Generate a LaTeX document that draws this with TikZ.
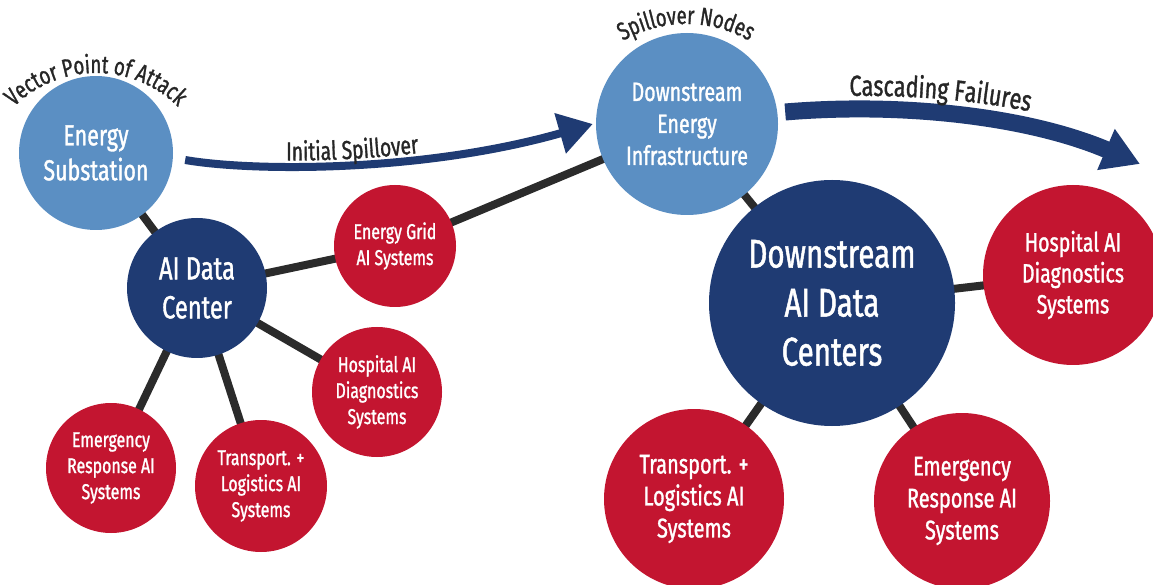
\documentclass[tikz,border=0pt]{standalone}
\usepackage{fontspec}
\setmainfont{Fira Sans}[FakeStretch=0.74,FakeBold=1.2]
\usetikzlibrary{arrows.meta,decorations.text,backgrounds,calc}
\definecolor{lblue}{HTML}{5B8FC3}
\definecolor{navy}{HTML}{1F3B73}
\definecolor{cred}{HTML}{C31530}
\definecolor{conncol}{HTML}{2B2B2B}
\definecolor{txt}{HTML}{262626}
\begin{document}
\begin{tikzpicture}[x=1pt,y=1pt,
  bubble/.style={circle,inner sep=0pt,text=white,align=center},
  lbub/.style={bubble,fill=lblue},
  nbub/.style={bubble,fill=navy},
  rbub/.style={bubble,fill=cred},
  linkline/.style={draw=conncol,line width=8pt},
  bigarrow/.style={draw=navy,line cap=butt}
]
\useasboundingbox (0,0) rectangle (1153,584);
\clip (0,0) rectangle (1153,584);

% nodes
\node[lbub,minimum size=154pt,font=\fontsize{29}{35}\selectfont] (sub) at (96,431) {Energy\\Substation};
\node[nbub,minimum size=140pt,font=\fontsize{32}{39}\selectfont] (aidc) at (197,296) {AI Data\\Center};
\node[rbub,minimum size=122pt,font=\fontsize{21.5}{26}\selectfont] (grid) at (395,338) {Energy Grid\\AI Systems};
\node[rbub,minimum size=130pt,font=\fontsize{21.5}{26}\selectfont] (hosp1) at (377,192) {Hospital AI\\Diagnostics\\Systems};
\node[rbub,minimum size=130pt,font=\fontsize{21.5}{26}\selectfont] (emer1) at (111,116) {Emergency\\Response AI\\Systems};
\node[rbub,minimum size=132pt,font=\fontsize{21.5}{26}\selectfont] (trans1) at (261,98) {Transport. +\\Logistics AI\\Systems};
\node[lbub,minimum size=182pt,font=\fontsize{26.5}{32}\selectfont] (dse) at (687,460) {Downstream\\Energy\\Infrastructure};
\node[nbub,minimum size=246pt,font=\fontsize{40}{49}\selectfont] (dsai) at (832,281) {Downstream\\AI Data\\Centers};
\node[rbub,minimum size=180pt,font=\fontsize{26.5}{31}\selectfont] (hosp2) at (1073,309) {Hospital AI\\Diagnostics\\Systems};
\node[rbub,minimum size=180pt,font=\fontsize{27}{32}\selectfont] (trans2) at (694,85) {Transport. +\\Logistics AI\\Systems};
\node[rbub,minimum size=176pt,font=\fontsize{27}{32}\selectfont] (emer2) at (962,83) {Emergency\\Response AI\\Systems};

% connectors behind
\begin{pgfonlayer}{background}
\draw[linkline] (sub.center) -- (aidc.center);
\draw[linkline] (aidc.center) -- (grid.center);
\draw[linkline] (grid.center) -- (dse.center);
\draw[linkline] (aidc.center) -- (hosp1.center);
\draw[linkline] (aidc.center) -- (emer1.center);
\draw[linkline] (aidc.center) -- (trans1.center);
\draw[linkline] (dse.center) -- (dsai.center);
\draw[linkline] (dsai.center) -- (hosp2.center);
\draw[linkline] (dsai.center) -- (trans2.center);
\draw[linkline] (dsai.center) -- (emer2.center);
\end{pgfonlayer}

% arrows
\coordinate (isA) at ($(sub.east)+(12,-7)$);
\coordinate (isB) at ($(dse.west)+(-3,0)$);
\draw[bigarrow,line width=8pt,-{Triangle[length=34pt,width=40pt]}]
  (isA) .. controls (255,412) and (425,412) .. (isB);
\coordinate (cfA) at ($(dse.east)+(7,12)$);
\coordinate (cfB) at (1140,420);
\draw[bigarrow,line width=17pt,-{Triangle[length=37pt,width=42pt]}]
  (cfA) .. controls (905,482) and (1030,467) .. (cfB);

% curved labels
\path[decorate,decoration={text along path,text align=center,
  text={|\fontsize{25}{30}\selectfont\color{txt}|Vector Point of Attack}}]
  (96,395) ++(150:116) arc[start angle=150,end angle=30,radius=116];
\path[decorate,decoration={text along path,text align=center,
  text={|\fontsize{25}{29}\selectfont\color{txt}|Spillover Nodes}}]
  (686,434) ++(125:126) arc[start angle=125,end angle=55,radius=126];
\path[decorate,decoration={text along path,text align=center,
  text={|\fontsize{26}{31}\selectfont\color{txt}|Initial Spillover}}]
  (262,424) .. controls (320,422) and (385,426) .. (443,434);
\path[decorate,decoration={text along path,text align=center,
  text={|\fontsize{29}{35}\selectfont\color{txt}|Cascading Failures}}]
  (842,488) .. controls (897,489) and (967,486) .. (1037,471);
\end{tikzpicture}
\end{document}
